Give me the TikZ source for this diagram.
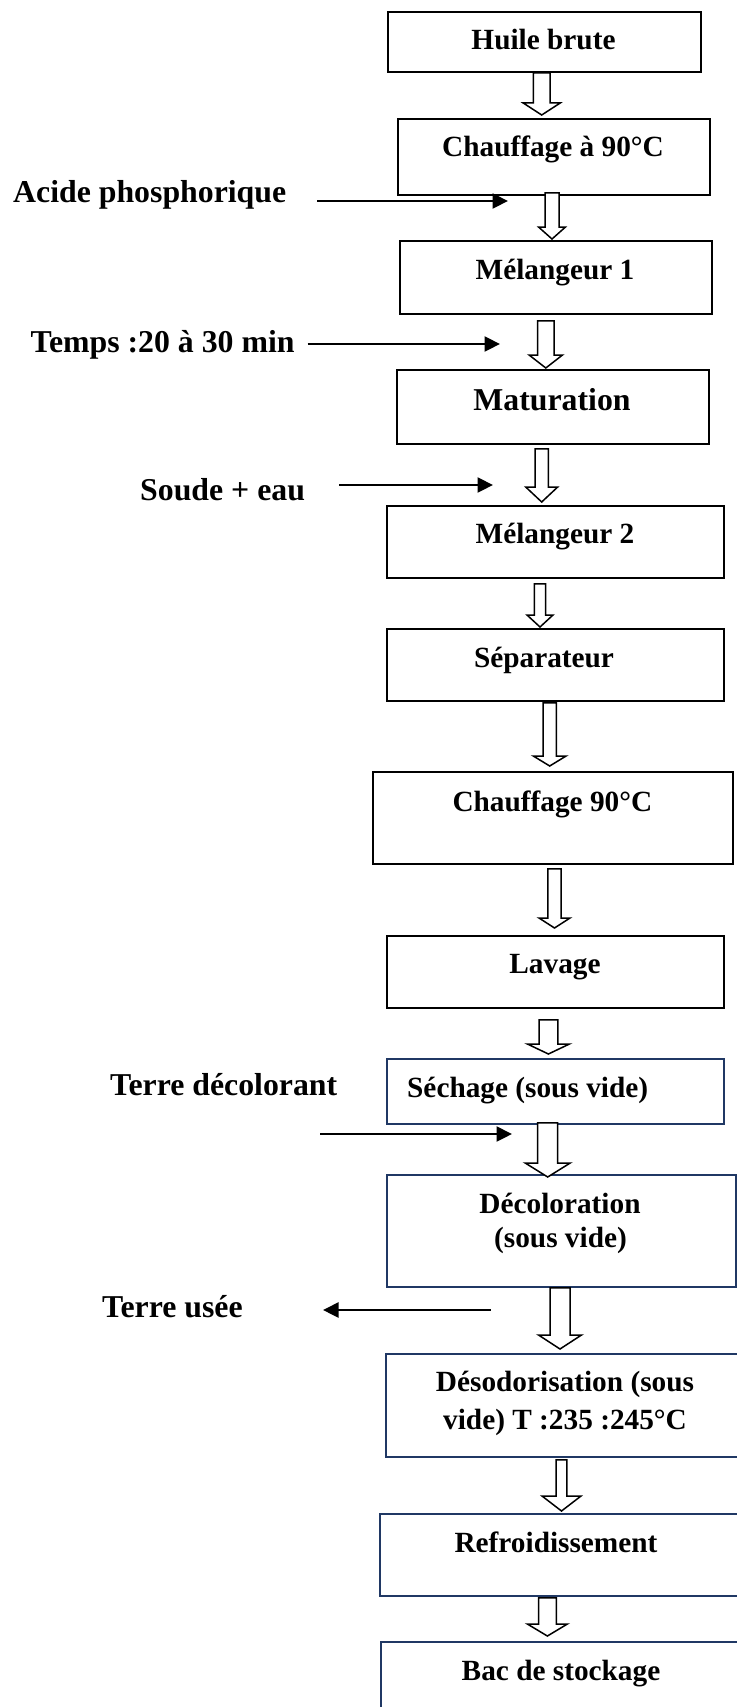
\documentclass[tikz,border=0pt]{standalone}
\usepackage{fontspec}
\setmainfont{Liberation Serif}
\usetikzlibrary{arrows.meta,calc}
\definecolor{navy}{RGB}{32,56,100}
\tikzset{
  box/.style={draw=black, line width=1.8pt, rectangle, inner sep=0pt, anchor=north west},
  nbox/.style={box, draw=navy},
  txt/.style={font=\fontsize{29.3}{34}\selectfont\bfseries, inner sep=0pt, anchor=base},
  bigtxt/.style={txt, font=\fontsize{31.8}{36}\selectfont\bfseries},
  side/.style={font=\fontsize{31.8}{36}\selectfont\bfseries, inner sep=0pt, anchor=base west},
  barr/.style={draw=black, line width=1.5pt, fill=white, line join=miter},
  sarr/.style={line width=2.2pt, -{Triangle[length=15.5pt,width=15pt]}},
}
% #1 src, #2 dst, #3 x centre, #4 half shaft, #5 half head, #6 head length, #7 top gap, #8 bottom gap
\newcommand{\blockarrow}[8]{%
  \draw[barr]
    ($({#3-#4},0 |- #1.south)+(0,{#7})$) --
    ($({#3-#4},0 |- #2.north)+(0,{-(#8)-(#6)})$) --
    ($({#3-#5},0 |- #2.north)+(0,{-(#8)-(#6)})$) --
    ($(#3,0 |- #2.north)+(0,{-(#8)})$) --
    ($({#3+#5},0 |- #2.north)+(0,{-(#8)-(#6)})$) --
    ($({#3+#4},0 |- #2.north)+(0,{-(#8)-(#6)})$) --
    ($({#3+#4},0 |- #1.south)+(0,{#7})$) -- cycle;
}
\begin{document}
\begin{tikzpicture}[x=1pt,y=-1pt]
\useasboundingbox (0,0) rectangle (736,1707);

% boxes
\node[box,  minimum width=313pt, minimum height=60pt]  (b1)  at (387,11)   {};
\node[box,  minimum width=312pt, minimum height=76pt]  (b2)  at (397,118)  {};
\node[box,  minimum width=312pt, minimum height=73pt]  (b3)  at (399,240)  {};
\node[box,  minimum width=312pt, minimum height=74pt]  (b4)  at (396,369)  {};
\node[box,  minimum width=337pt, minimum height=72pt]  (b5)  at (386,505)  {};
\node[box,  minimum width=337pt, minimum height=72pt]  (b6)  at (386,628)  {};
\node[box,  minimum width=360pt, minimum height=92pt]  (b7)  at (372,771)  {};
\node[box,  minimum width=337pt, minimum height=72pt]  (b8)  at (386,935)  {};
\node[nbox, minimum width=337pt, minimum height=65pt]  (b9)  at (386,1058) {};
\node[nbox, minimum width=349pt, minimum height=112pt] (b10) at (386,1174) {};
\node[nbox, minimum width=360pt, minimum height=103pt] (b11) at (385,1353) {};
\node[nbox, minimum width=362pt, minimum height=82pt]  (b12) at (379,1513) {};
\node[nbox, minimum width=362pt, minimum height=80pt]  (b13) at (380,1641) {};

% box texts
\node[txt] (t1) at (543.5,50) {Huile brute};
\node[txt] (t2) at (553,157) {Chauffage à 90°C};
\node[txt] (t3) at (555,279) {Mélangeur 1};
\node[bigtxt] (t4) at (552,410) {Maturation};
\node[txt] (t5) at (555,543) {Mélangeur 2};
\node[txt] (t6) at (544,667) {Séparateur};
\node[txt] (t7) at (552.4,811) {Chauffage 90°C};
\node[txt] (t8) at (555,973) {Lavage};
\node[txt, anchor=base west] (t9) at (407,1097) {Séchage (sous vide)};
\node[txt] (t10a) at (560,1213) {Décoloration};
\node[txt] (t10b) at (560.5,1247) {(sous vide)};
\node[txt] (t11a) at (565,1391) {Désodorisation (sous};
\node[txt] (t11b) at (565,1429) {vide) T :235 :245°C};
\node[txt] (t12) at (556,1552) {Refroidissement};
\node[txt] (t13) at (561,1680) {Bac de stockage};

% block arrows
\blockarrow{b1}{b2}{541.7}{8.3}{18.5}{12}{0}{3}
\blockarrow{b2}{b3}{552}{7}{13.5}{12}{-3}{1}
\blockarrow{b3}{b4}{545.8}{8.2}{16.7}{13}{6}{1}
\blockarrow{b4}{b5}{541.7}{6.6}{16}{15}{4}{3}
\blockarrow{b5}{b6}{540}{5.7}{13}{12}{5}{1}
\blockarrow{b6}{b7}{549.7}{6.6}{16.4}{10}{1}{5}
\blockarrow{b7}{b8}{554.5}{6.6}{15.5}{10}{4}{7}
\blockarrow{b8}{b9}{548.4}{9.4}{21}{10}{11}{4}
\blockarrow{b9}{b10}{547.7}{10}{22.5}{14}{-2}{-3}
\blockarrow{b10}{b11}{560}{10}{21.5}{14}{0}{4}
\blockarrow{b11}{b12}{561.5}{5.4}{19.5}{15}{2}{2}
\blockarrow{b12}{b13}{547.4}{8.9}{20}{12}{1}{5}

% side labels
\node[side] (s1) at (13,203) {Acide phosphorique};
\node[side] (s2) at (30.5,352) {Temps :20 à 30 min};
\node[side] (s3) at (140,500) {Soude + eau};
\node[side] (s4) at (110,1095) {Terre décolorant};
\node[side] (s5) at (102,1317) {Terre usée};

% side arrow ends
\coordinate (a1s) at (317,201);   \coordinate (a1e) at (508,201);
\coordinate (a2s) at (307.5,344); \coordinate (a2e) at (500,344);
\coordinate (a3s) at (339,485);   \coordinate (a3e) at (493,485);
\coordinate (a4s) at (320,1134);  \coordinate (a4e) at (512,1134);
\coordinate (a5s) at (490.6,1310);\coordinate (a5e) at (323,1310);
\draw[sarr] (a1s) -- (a1e);
\draw[sarr] (a2s) -- (a2e);
\draw[sarr] (a3s) -- (a3e);
\draw[sarr] (a4s) -- (a4e);
\draw[sarr] (a5s) -- (a5e);
\end{tikzpicture}
\end{document}
